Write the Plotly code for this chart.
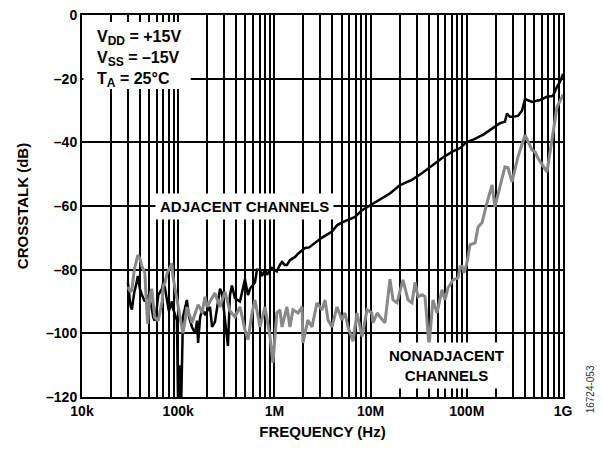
import plotly.graph_objects as go

# ---- data (frequency in Hz, crosstalk in dB) ----
adj_freq = [30e3, 32e3, 33e3, 35e3, 37e3, 38e3, 40e3, 42e3, 45e3, 48e3, 51e3, 53e3, 55e3, 57e3,
            60e3, 62e3, 68e3, 70e3, 73e3, 77e3, 80e3, 86e3, 88e3, 97e3, 100e3, 104e3, 107e3,
            112e3, 118e3, 123e3, 130e3, 139e3, 150e3, 157e3, 161e3, 169e3, 177e3, 190e3,
            214e3, 225e3, 241e3, 272e3, 285e3, 306e3, 329e3, 345e3, 362e3, 389e3, 419e3,
            439e3, 494e3, 532e3, 557e3, 628e3, 659e3, 708e3, 743e3, 798e3, 838e3, 900e3,
            944e3, 1.01e6, 1.06e6, 1.14e6, 1.2e6, 1.28e6, 1.35e6, 1.45e6, 1.64e6, 1.76e6,
            2.08e6, 2.3e6, 2.64e6, 3.1e6, 3.97e6, 4.5e6, 5.2e6, 6.89e6, 8e6, 10e6, 13e6,
            16e6, 20.2e6, 26.9e6, 35e6, 45e6, 55e6, 70e6, 85e6, 100e6, 120e6, 150e6, 187e6,
            221e6, 249e6, 262e6, 281e6, 300e6, 340e6, 375e6, 403e6, 476e6, 577e6, 682e6,
            787e6, 866e6, 930e6, 1e9]
adj_db = [-84.1, -91.5, -92.5, -87, -84, -82, -86, -88, -90, -88, -90, -92, -95, -96,
          -92, -88, -86, -84, -86, -90, -93, -90, -92, -96, -125, -110, -125,
          -95, -92, -89.5, -95, -98, -100, -96, -103, -95, -92.6, -94,
          -91.7, -98, -96.4, -86, -87.3, -95, -104, -88, -85, -89, -89.5,
          -90, -83, -88, -86, -84, -80, -80, -82, -80, -81.6, -80,
          -79.4, -80, -80.5, -78.5, -77.6, -78.5, -78.5, -77, -76, -75,
          -73.2, -73, -71.6, -70, -68, -66, -65, -63.4, -61.5, -59.7, -57.5,
          -56, -53.4, -51.8, -49.5, -47, -45, -43, -41.8, -39.9, -39, -37.5, -35.5,
          -34, -33.5, -31, -32, -32, -31.7, -30, -26.4, -27.3, -26.7, -25.7,
          -25.4, -22.5, -21, -18.5]

nonadj_freq = [30e3, 32e3, 33e3, 35e3, 38e3, 40e3, 42e3, 45e3, 48e3, 51e3, 53e3, 55e3, 57e3,
               62e3, 68e3, 70e3, 73e3, 77e3, 86e3, 88e3, 97e3, 104e3, 112e3, 118e3, 123e3,
               139e3, 150e3, 161e3, 169e3, 177e3, 190e3, 200e3, 214e3, 241e3, 272e3, 306e3,
               345e3, 389e3, 439e3, 494e3, 532e3, 585e3, 628e3, 708e3, 798e3, 900e3, 966e3,
               1.06e6, 1.14e6, 1.2e6, 1.35e6, 1.45e6, 1.56e6, 1.76e6, 1.94e6, 1.98e6, 2.23e6,
               2.46e6, 2.77e6, 3.13e6, 3.36e6, 3.61e6, 3.97e6, 4.48e6, 5.04e6, 5.42e6, 5.82e6,
               6.56e6, 7.22e6, 8.15e6, 9.18e6, 10.3e6, 10.6e6, 11.7e6, 12.5e6, 14.1e6, 15.9e6,
               17.1e6, 18.8e6, 21.7e6, 24.5e6, 26.9e6, 29e6, 31.1e6, 34.2e6, 36.8e6, 40.5e6,
               44.5e6, 49e6, 55.2e6, 59.3e6, 63.8e6, 71.9e6, 81.1e6, 85e6, 89.2e6, 93.5e6,
               100e6, 108e6, 122e6, 131e6, 144e6, 162e6, 183e6, 196e6, 221e6, 249e6, 268e6,
               295e6, 340e6, 403e6, 476e6, 511e6, 550e6, 682e6, 732e6, 866e6, 977e6, 1e9]
nonadj_db = [-85.4, -87, -86.3, -80, -75.4, -76.5, -79, -81, -97, -88, -86, -90, -95,
             -96, -90, -85, -84, -81, -78, -82, -89.5, -94.8, -100, -96, -91.7,
             -96.7, -94, -91, -92, -93.6, -88.5, -91.7, -90, -87.3, -91.7, -87,
             -93, -94.8, -91.7, -98.9, -102, -93.6, -89.5, -98, -91.7, -101, -109.3,
             -93.6, -92.6, -98, -91.7, -98, -92.6, -93.6, -91.7, -103, -95.8,
             -98, -90.4, -92.6, -89.5, -95.8, -98, -91.7, -95.8, -93.6, -98,
             -102.5, -93.6, -101, -92.6, -93.6, -96.7, -93.6, -94.8, -96.7, -83,
             -89.5, -90.4, -83.2, -89.5, -90.4, -84, -88.5, -87.9, -88.5, -104,
             -89.5, -93.6, -86.3, -89.5, -85.7, -83.2, -82.6, -79.1, -79, -81,
             -78, -72.2, -71.6, -66.6, -65.3, -59, -53.4, -60.3, -54, -47.7, -48,
             -52.4, -44.6, -37.7, -42.4, -43, -45, -49.3, -43.3, -28.9, -25.7, -25]

x_tickvals = [1e4, 1e5, 1e6, 1e7, 1e8, 1e9]
x_ticktext = ["10k", "100k", "1M", "10M", "100M", "1G"]
y_tickvals = [0, -20, -40, -60, -80, -100, -120]
y_ticktext = ["0", "–20", "–40", "–60", "–80", "–100", "–120"]

FONT = "Liberation Sans, Arial, sans-serif"

fig = go.Figure()
fig.add_trace(go.Scatter(x=adj_freq, y=adj_db, mode="lines",
                         line=dict(color="black", width=2.5), name="Adjacent"))
fig.add_trace(go.Scatter(x=nonadj_freq, y=nonadj_db, mode="lines",
                         line=dict(color="#888888", width=3), name="Nonadjacent"))

# page body has an 8px margin, so the figure is sized/offset to compensate
fig.update_layout(
    width=587, height=438,
    margin=dict(l=74, r=32, t=7, b=49, autoexpand=False),
    paper_bgcolor="white", plot_bgcolor="white",
    showlegend=False,
    font=dict(family=FONT, size=14, color="black"),
    xaxis=dict(type="log", range=[4, 9], tickvals=x_tickvals, ticktext=x_ticktext,
               automargin=False, ticklabeloverflow="allow",
               showgrid=True, gridcolor="black", gridwidth=1.5,
               minor=dict(dtick="D1", showgrid=True, gridcolor="black", gridwidth=1.5, ticks=""),
               showline=True, linecolor="black", linewidth=2, mirror=True,
               ticks="", zeroline=False,
               tickfont=dict(family=FONT, size=14, color="black", weight="bold"),
               title=dict(text="<b>FREQUENCY (Hz)</b>", standoff=9,
                          font=dict(family=FONT, size=15, color="black"))),
    yaxis=dict(range=[-120, 0], tickvals=y_tickvals, ticktext=y_ticktext,
               automargin=False, ticklabeloverflow="allow",
               showgrid=True, gridcolor="black", gridwidth=1.5,
               showline=True, linecolor="black", linewidth=2, mirror=True,
               ticks="", zeroline=False,
               tickfont=dict(family=FONT, size=14, color="black", weight="bold"),
               title=dict(text="<b>CROSSTALK (dB)</b>", standoff=14,
                          font=dict(family=FONT, size=15, color="black"))),
)

# white box behind the conditions text
fig.add_shape(type="rect", xref="paper", yref="paper", x0=0.003, x1=0.226,
              y0=0.806, y1=0.982, fillcolor="white", line=dict(width=0), layer="above")

sub = "<sub><span style='font-size:12px'>{}</span></sub>"
fig.add_annotation(xref="paper", yref="paper", x=0, y=1, xanchor="left", yanchor="top",
                   text="<b>V" + sub.format("DD") + " = +15V<br>V" + sub.format("SS")
                        + " = –15V<br>T" + sub.format("A") + " = 25°C</b>",
                   showarrow=False, align="left", borderpad=0,
                   xshift=14, yshift=-12, font=dict(family=FONT, size=16, color="black"))
fig.add_annotation(x=5.69, y=-60, xref="x", yref="y",
                   text="<b>ADJACENT CHANNELS</b>", showarrow=False, bgcolor="white",
                   borderpad=4, font=dict(family=FONT, size=15, color="black"))
fig.add_annotation(x=7.79, y=-110, xref="x", yref="y",
                   text="<b>NONADJACENT<br>CHANNELS</b>", showarrow=False, bgcolor="white",
                   borderpad=4, font=dict(family=FONT, size=15, color="black"))
fig.add_annotation(xref="paper", yref="paper", x=1, y=0.02, xanchor="center",
                   yanchor="middle", xshift=27, textangle=-90, text="16724-053",
                   showarrow=False, font=dict(family=FONT, size=10, color="#333333"))

fig.write_html("out.html")
